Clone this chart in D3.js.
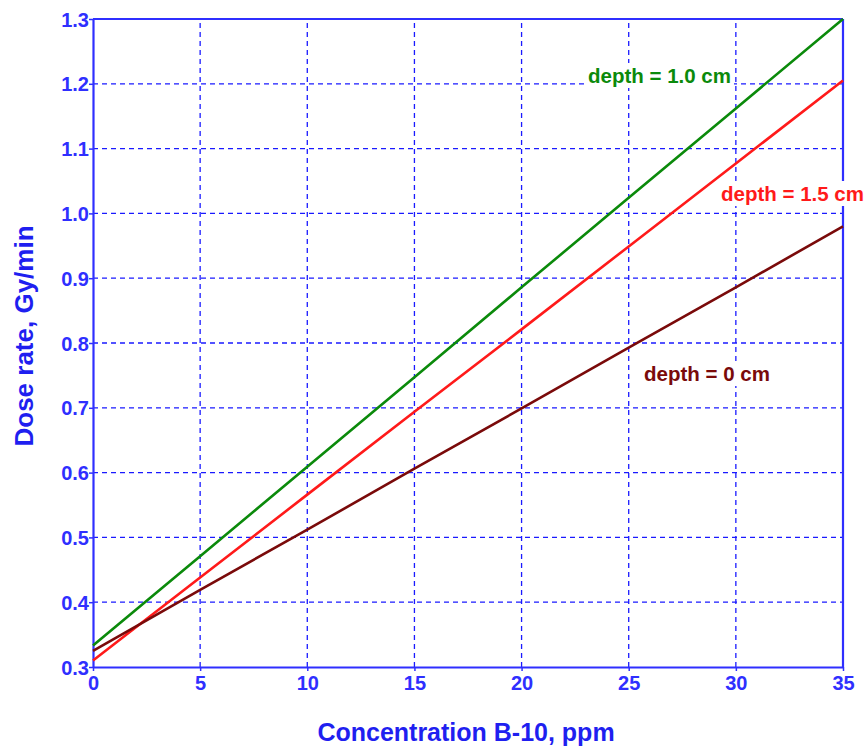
<!DOCTYPE html>
<html>
<head>
<meta charset="utf-8">
<script src="https://cdn.jsdelivr.net/npm/d3@7"></script>
<style>
  html, body { margin: 0; padding: 0; background: #fff; }
  svg { display: block; font-family: "Liberation Sans", Arial, sans-serif; }
</style>
</head>
<body>
<svg id="chart" width="868" height="747"></svg>
<script>
// Boron-10 concentration (ppm) and dose rate (Gy/min) at three depths
const concentration = [0, 5, 10, 15, 20, 25, 30, 35];
const depth10 = [0.333, 0.471, 0.609, 0.747, 0.886, 1.024, 1.162, 1.300];
const depth15 = [0.310, 0.438, 0.566, 0.694, 0.821, 0.949, 1.077, 1.205];
const depth00 = [0.325, 0.419, 0.512, 0.606, 0.699, 0.793, 0.886, 0.980];

const xTicks = [0, 5, 10, 15, 20, 25, 30, 35];
const yTicks = [0.3, 0.4, 0.5, 0.6, 0.7, 0.8, 0.9, 1.0, 1.1, 1.2, 1.3];

const series = [
  { name: "depth = 1.0 cm", values: depth10, color: "#0b8a0b", lx: 588, ly: 83 },
  { name: "depth = 1.5 cm", values: depth15, color: "#ff1a1a", lx: 721, ly: 201 },
  { name: "depth = 0 cm",   values: depth00, color: "#7a0a0a", lx: 644, ly: 381 }
];

const axisBlue = "#2f2fff";
const margin = { left: 93, top: 19, right: 25, bottom: 80 };
const W = 868, H = 747;
const svg = d3.select("#chart");

const x = d3.scaleLinear().domain([0, 35]).range([margin.left, W - margin.right]);
const y = d3.scaleLinear().domain([0.3, 1.3]).range([H - margin.bottom, margin.top]);

// dashed grid
const grid = svg.append("g");
grid.selectAll("line.v").data(xTicks.slice(1, -1)).join("line")
  .attr("x1", d => x(d)).attr("x2", d => x(d))
  .attr("y1", y(0.3)).attr("y2", y(1.3))
  .attr("stroke", "#1a1aff").attr("stroke-width", 1.3)
  .attr("stroke-dasharray", "5,4");
grid.selectAll("line.h").data(yTicks.slice(1, -1)).join("line")
  .attr("x1", x(0)).attr("x2", x(35))
  .attr("y1", d => y(d)).attr("y2", d => y(d))
  .attr("stroke", "#1a1aff").attr("stroke-width", 1.3)
  .attr("stroke-dasharray", "5,4");

// axes
const xAxis = svg.append("g")
  .attr("transform", `translate(0,${y(0.3)})`)
  .call(d3.axisBottom(x).tickValues(xTicks).tickSize(4).tickSizeOuter(0).tickPadding(5));
const yAxis = svg.append("g")
  .attr("transform", `translate(${x(0)},0)`)
  .call(d3.axisLeft(y).tickValues(yTicks).tickFormat(d3.format(".1f")).tickSize(4).tickSizeOuter(0).tickPadding(0));

[xAxis, yAxis].forEach(g => {
  g.select(".domain").attr("stroke", axisBlue).attr("stroke-width", 2.2);
  g.selectAll(".tick line").attr("stroke", axisBlue).attr("stroke-width", 1.5);
  g.selectAll(".tick text")
    .attr("fill", axisBlue)
    .style("font-size", "20px")
    .style("font-weight", "bold")
    .style("font-family", "'Liberation Sans', Arial, sans-serif");
});
yAxis.selectAll(".tick text").attr("dy", "0.35em");

// top and right frame
svg.append("line").attr("x1", x(0)).attr("x2", x(35)).attr("y1", y(1.3)).attr("y2", y(1.3))
  .attr("stroke", axisBlue).attr("stroke-width", 2.2);
svg.append("line").attr("x1", x(35)).attr("x2", x(35)).attr("y1", y(1.3)).attr("y2", y(0.3))
  .attr("stroke", axisBlue).attr("stroke-width", 2.2);

// curves
const line = d3.line().x((d, i) => x(concentration[i])).y(d => y(d));
series.forEach(s => {
  svg.append("path").datum(s.values)
    .attr("d", line)
    .attr("fill", "none")
    .attr("stroke", s.color)
    .attr("stroke-width", 2.6);
});

// curve labels on white boxes that mask the grid behind them
series.forEach(s => {
  const g = svg.append("g");
  const bg = g.append("rect").attr("fill", "#fff");
  const t = g.append("text")
    .attr("x", s.lx).attr("y", s.ly)
    .attr("fill", s.color)
    .style("font-size", "20.5px")
    .style("font-weight", "bold")
    .text(s.name);
  const b = t.node().getBBox();
  bg.attr("x", b.x - 3).attr("y", b.y - 1)
    .attr("width", b.width + 6).attr("height", b.height + 2);
});

// axis titles
svg.append("text")
  .attr("x", 466).attr("y", 741)
  .attr("text-anchor", "middle")
  .attr("fill", "#1f1ff0")
  .style("font-size", "25px").style("font-weight", "bold")
  .text("Concentration B-10, ppm");
svg.append("text")
  .attr("transform", `translate(33,336) rotate(-90)`)
  .attr("text-anchor", "middle")
  .attr("fill", "#1f1ff0")
  .style("font-size", "26px").style("font-weight", "bold")
  .text("Dose rate, Gy/min");
</script>
</body>
</html>
